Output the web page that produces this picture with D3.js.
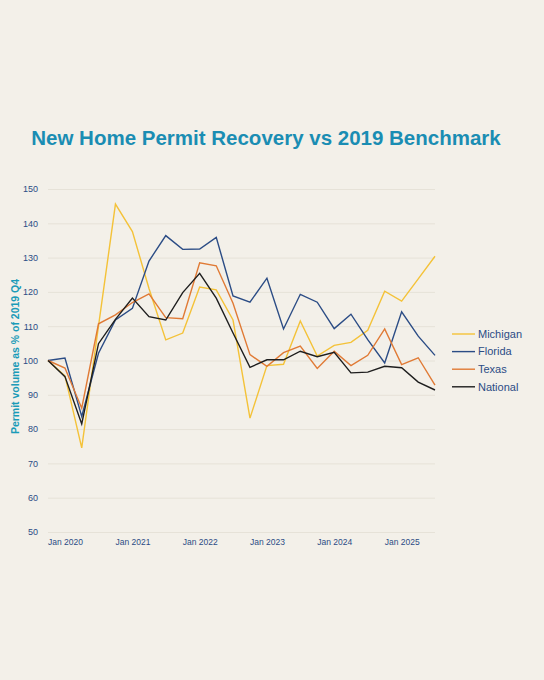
<!DOCTYPE html>
<html>
<head>
<meta charset="utf-8">
<script src="https://cdn.jsdelivr.net/npm/d3@7"></script>
<style>
  html, body { margin: 0; padding: 0; background: #f3f0e9; }
  svg { display: block; font-family: "Liberation Sans", Arial, sans-serif; }
</style>
</head>
<body>
<svg id="chart" width="544" height="680"></svg>
<script>
// quarterly, 2019 Q4 .. 2025 Q3 (index = % of 2019 Q4)
const quarters = [
  "2019-10-01", "2020-01-01", "2020-04-01", "2020-07-01", "2020-10-01",
  "2021-01-01", "2021-04-01", "2021-07-01", "2021-10-01",
  "2022-01-01", "2022-04-01", "2022-07-01", "2022-10-01",
  "2023-01-01", "2023-04-01", "2023-07-01", "2023-10-01",
  "2024-01-01", "2024-04-01", "2024-07-01", "2024-10-01",
  "2025-01-01", "2025-04-01", "2025-07-01"
];

const michigan = [100, 95.5, 74.5, 110, 145.6, 137.6, 121, 106, 108, 121.4, 120.6, 111.8,
  83.2, 98.5, 98.9, 111.5, 101.3, 104.4, 105.3, 108.8, 120.2, 117.3, 123.8, 130.4];
const florida = [100, 100.7, 83.7, 102.1, 111.8, 115.2, 129, 136.4, 132.4, 132.5, 135.9, 118.8,
  117, 124, 109.2, 119.3, 117, 109.3, 113.5, 106.1, 99.3, 114.2, 107.1, 101.5];
const texas = [100, 97.8, 86.1, 110.7, 113.3, 116.9, 119.4, 112.5, 112.2, 128.5, 127.6, 116.7,
  101.7, 98.3, 102.3, 104.2, 97.7, 102.7, 98.5, 101.5, 109.2, 98.8, 100.8, 92.8];
const national = [100, 95.3, 81.5, 104.9, 112, 118.2, 112.8, 111.8, 119.8, 125.4, 118.2, 108,
  98, 100.2, 100.2, 102.7, 101.1, 102.4, 96.4, 96.6, 98.3, 97.9, 93.7, 91.4];

const seriesNames = ["Michigan", "Florida", "Texas", "National"];
const seriesColors = ["#f4c238", "#2b4c85", "#e07a35", "#1e1e1e"];
const yTicks = [50, 60, 70, 80, 90, 100, 110, 120, 130, 140, 150];
const xTickYears = [2020, 2021, 2022, 2023, 2024, 2025];

const parse = d3.timeParse("%Y-%m-%d");
const dates = quarters.map(parse);
const seriesValues = [michigan, florida, texas, national];
const series = seriesNames.map((name, k) => ({
  name,
  color: seriesColors[k],
  values: dates.map((d, i) => ({ date: d, value: seriesValues[k][i] }))
}));

const svg = d3.select("#chart");
const margin = { top: 189, right: 109, bottom: 148, left: 48 };
const width = 544;
const height = 680;

const x = d3.scaleTime()
  .domain(d3.extent(dates))
  .range([margin.left, width - margin.right]);

const y = d3.scaleLinear()
  .domain([50, 150])
  .range([height - margin.bottom, margin.top]);

// title
svg.append("text")
  .attr("x", 266)
  .attr("y", 145)
  .attr("text-anchor", "middle")
  .attr("fill", "#1a8db3")
  .style("font-size", "20.5px")
  .style("font-weight", "bold")
  .text("New Home Permit Recovery vs 2019 Benchmark");

// gridlines + y axis
const yAxis = (g) =>
  g
    .attr("transform", `translate(${margin.left},0)`)
    .call(d3.axisLeft(y).tickValues(yTicks).tickSize(-(width - margin.left - margin.right)).tickPadding(10))
    .call((g) => g.select(".domain").remove())
    .call((g) => g.selectAll(".tick line").attr("stroke", "#e6e2d8").attr("stroke-width", 1))
    .call((g) =>
      g.selectAll(".tick text")
        .attr("fill", "#2b4c85")
        .style("font-size", "9px")
        .style("font-family", "'Liberation Sans', Arial, sans-serif")
    );

svg.append("g").call(yAxis);

const xAxis = (g) =>
  g
    .attr("transform", `translate(0,${height - margin.bottom})`)
    .call(
      d3.axisBottom(x)
        .tickValues(xTickYears.map((yr) => new Date(yr, 0, 1)))
        .tickFormat(d3.timeFormat("%b %Y"))
        .tickSize(0)
        .tickPadding(7)
    )
    .call((g) => g.select(".domain").remove())
    .call((g) =>
      g.selectAll(".tick text")
        .attr("fill", "#2b4c85")
        .style("font-size", "8.5px")
        .style("font-family", "'Liberation Sans', Arial, sans-serif")
    );

svg.append("g").call(xAxis);

// y axis title
svg.append("text")
  .attr("transform", `translate(19,${(margin.top + height - margin.bottom) / 2 - 4}) rotate(-90)`)
  .attr("text-anchor", "middle")
  .attr("fill", "#1a9bb8")
  .style("font-size", "10.5px")
  .style("font-weight", "bold")
  .text("Permit volume as % of 2019 Q4");

// lines
const line = d3.line()
  .x((d) => x(d.date))
  .y((d) => y(d.value));

svg.append("g")
  .selectAll("path")
  .data(series)
  .join("path")
  .attr("fill", "none")
  .attr("stroke", (d) => d.color)
  .attr("stroke-width", 1.4)
  .attr("stroke-linejoin", "miter")
  .attr("d", (d) => line(d.values));

// legend
const legend = svg.append("g")
  .attr("transform", "translate(452,334)");

const item = legend.selectAll("g")
  .data(series)
  .join("g")
  .attr("transform", (d, i) => `translate(0,${i * 17.6})`);

item.append("line")
  .attr("x1", 0)
  .attr("x2", 23)
  .attr("stroke", (d) => d.color)
  .attr("stroke-width", 1.4);

item.append("text")
  .attr("x", 26)
  .attr("dy", "0.35em")
  .attr("fill", "#2b4c85")
  .style("font-size", "11px")
  .text((d) => d.name);
</script>
</body>
</html>
